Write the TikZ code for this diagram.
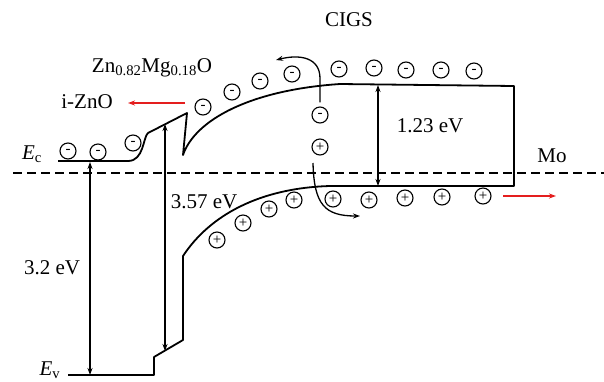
\documentclass[tikz,border=0pt]{standalone}
\usepackage{fontspec}
\setmainfont{Liberation Serif}
\usetikzlibrary{arrows.meta}
\definecolor{flowred}{RGB}{228,30,30}

\begin{document}
\begin{tikzpicture}[x=1pt,y=-1pt,>={Stealth[length=7pt,width=5pt]},
  every node/.style={font=\fontsize{21}{24}\selectfont},
  band/.style={line width=1.8pt,line join=round},
  gap/.style={<->,line width=1.3pt},
  flow/.style={->,line width=1.3pt},
  elec/.style={circle,draw,line width=1.1pt,minimum size=16pt,inner sep=0pt,font=\fontsize{15}{15}\selectfont},
  hole/.style={elec}]
\useasboundingbox (0,0) rectangle (604,381);

% Fermi level
\draw[line width=1.6pt,dash pattern=on 9pt off 5pt] (13,173) -- (604,173);

% band edges
\draw[band] (58,161) -- (128,161) .. controls (144,161) and (143,137) .. (148,133) -- (187,113) -- (183,155)
  .. controls (195,120) and (250,90) .. (340,84) -- (514,86) -- (514,186) -- (330,186)
  .. controls (260,188) and (210,215) .. (183,256) -- (183,340) -- (154,357) -- (154,375) -- (68,375);

\coordinate (zc) at (90,162);  \coordinate (zv) at (90,375);
\coordinate (mc) at (165,124); \coordinate (mv) at (165,351);
\coordinate (cc) at (378,85);  \coordinate (cv) at (378,186);
\draw[gap] (zc)--(zv);
\draw[gap] (mc)--(mv);
\draw[gap] (cc)--(cv);

% charges
\foreach \x/\y [count=\i] in {68/151,98/152,133/143,203/107,232/92,260/81,292/74,339/69,374/68,406/70,441/70,474/71,320/115}
  \node[elec] (n\i) at (\x,\y) {-};
\foreach \x/\y [count=\i] in {217/240,243/223,269/209,294/200,333/199,369/200,405/198,442/197,483/196,320/147}
  \node[hole] (p\i) at (\x,\y) {+};

% carrier paths
\coordinate (eo) at (276,60);
\coordinate (hs) at (313,163); \coordinate (he) at (360,216);
\draw[flow,shorten <=4pt] (n13.north) -- ++(0,-28) .. controls +(0,-21) and (300,54) .. (eo);
\draw[flow] (hs) .. controls (314,205) and (325,216) .. (he);

\coordinate (ra) at (185,103); \coordinate (rb) at (128,103);
\coordinate (rc) at (503,196); \coordinate (rd) at (556,196);
\draw[flow,flowred] (ra)--(rb);
\draw[flow,flowred] (rc)--(rd);

% labels
\node (cigs) at (349,20) {CIGS};
\node (zmo) at (152,68) {Zn\textsubscript{0.82}Mg\textsubscript{0.18}O};
\node (izo) at (87,102) {i-ZnO};
\node (ec) at (32,154) {\textit{E}\textsubscript{c}};
\node (ev) at (50,370) {\textit{E}\textsubscript{v}};
\node (g1) at (52,268) {3.2 eV};
\node (g2) at (204,202) {3.57 eV};
\node (g3) at (430,126) {1.23 eV};
\node (mo) at (552,156) {Mo};
\end{tikzpicture}
\end{document}
